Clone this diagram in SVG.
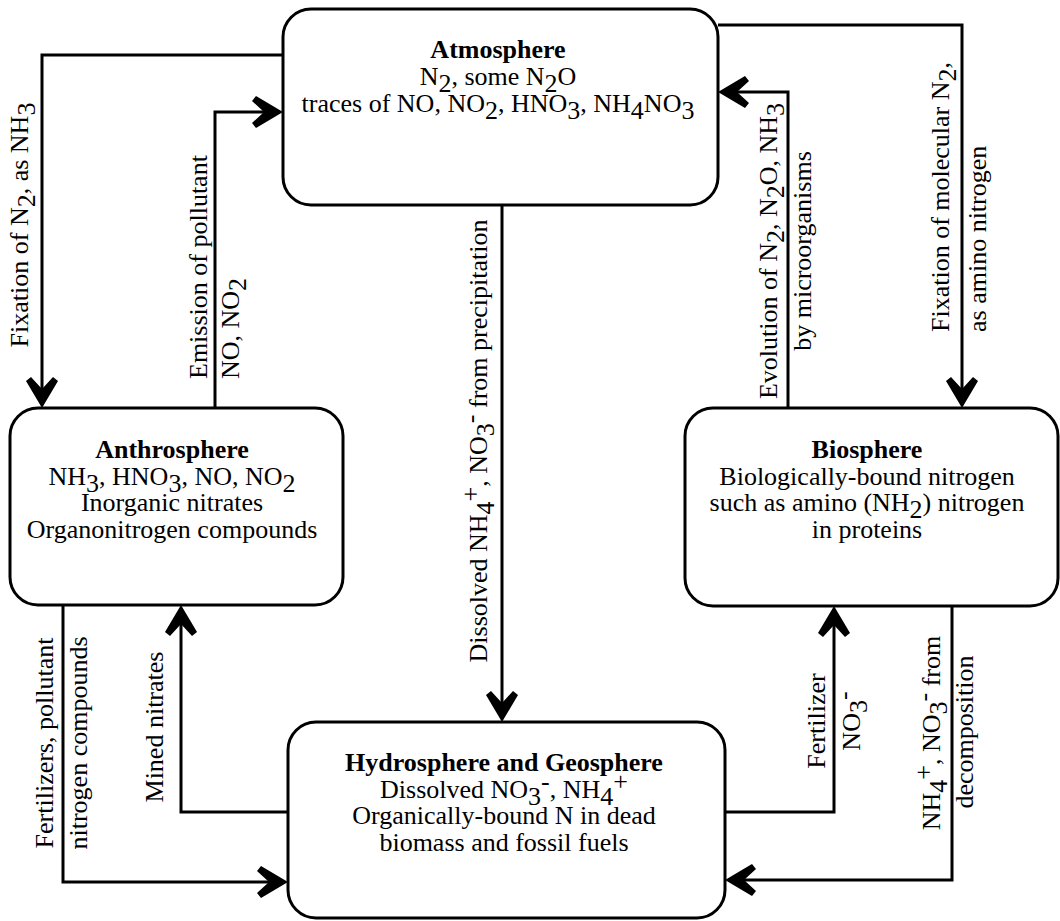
<svg xmlns="http://www.w3.org/2000/svg" width="1060" height="921" viewBox="0 0 1060 921">
<style>
.box{fill:#fff;stroke:#000;stroke-width:3}
.ln{fill:none;stroke:#000;stroke-width:3;marker-end:url(#ah)}
text{font-family:"Liberation Serif","Times New Roman",serif;font-size:26px;fill:#000}
.c{text-anchor:middle}
.b{font-weight:bold}
</style>
<defs>
<marker id="ah" markerUnits="userSpaceOnUse" viewBox="-32 -17 33 34" refX="-19" refY="0" markerWidth="33" markerHeight="34" orient="auto">
<path d="M0,0 L-27,-16 L-31,-11 L-19,0 L-31,11 L-27,16 Z" fill="#000"/>
</marker>
</defs>
<g id="connectors">
<path class="ln" d="M283,55 H42 V389"/>
<path class="ln" d="M215,408 V112 H264"/>
<path class="ln" d="M718,25 H962 V389"/>
<path class="ln" d="M788,408 V92 H737"/>
<path class="ln" d="M502,205 V703"/>
<path class="ln" d="M63,605 V882 H269"/>
<path class="ln" d="M288,812 H181 V624"/>
<path class="ln" d="M725,812 H834 V625"/>
<path class="ln" d="M952,606 V880 H744"/>
</g>
<g id="atmosphere">
<rect class="box" x="283" y="9" width="435" height="196" rx="28"/>
<text class="c b" x="498" y="58">Atmosphere</text>
<text class="c" x="498" y="85">N<tspan dy="7">2</tspan><tspan dy="-7">, some N</tspan><tspan dy="7">2</tspan><tspan dy="-7">O</tspan></text>
<text class="c" x="498" y="112">traces of NO, NO<tspan dy="7">2</tspan><tspan dy="-7">, HNO</tspan><tspan dy="7">3</tspan><tspan dy="-7">, NH</tspan><tspan dy="7">4</tspan><tspan dy="-7">NO</tspan><tspan dy="7">3</tspan></text>
</g>
<g id="anthrosphere">
<rect class="box" x="10" y="408" width="333" height="197" rx="28"/>
<text class="c b" x="172" y="458">Anthrosphere</text>
<text class="c" x="172" y="485">NH<tspan dy="7">3</tspan><tspan dy="-7">, HNO</tspan><tspan dy="7">3</tspan><tspan dy="-7">, NO, NO</tspan><tspan dy="7">2</tspan></text>
<text class="c" x="172" y="511">Inorganic nitrates</text>
<text class="c" x="172" y="538">Organonitrogen compounds</text>
</g>
<g id="biosphere">
<rect class="box" x="685" y="408" width="373" height="198" rx="28"/>
<text class="c b" x="867" y="458">Biosphere</text>
<text class="c" x="867" y="485">Biologically-bound nitrogen</text>
<text class="c" x="867" y="511">such as amino (NH<tspan dy="7">2</tspan><tspan dy="-7">) nitrogen</tspan></text>
<text class="c" x="867" y="538">in proteins</text>
</g>
<g id="hydrosphere">
<rect class="box" x="288" y="722" width="437" height="196" rx="28"/>
<text class="c b" x="504" y="771">Hydrosphere and Geosphere</text>
<text class="c" x="504" y="798">Dissolved NO<tspan dy="7">3</tspan><tspan dy="-15">-</tspan><tspan dy="8">, NH</tspan><tspan dy="7">4</tspan><tspan dy="-15">+</tspan></text>
<text class="c" x="504" y="824">Organically-bound N in dead</text>
<text class="c" x="504" y="851">biomass and fossil fuels</text>
</g>
<g id="labels">
<text class="c" x="28" y="225" transform="rotate(-90 28 225)">Fixation of N<tspan dy="7">2</tspan><tspan dy="-7">, as NH</tspan><tspan dy="7">3</tspan></text>
<text x="207" y="379" transform="rotate(-90 207 379)">Emission of pollutant</text>
<text x="239" y="379" transform="rotate(-90 239 379)">NO, NO<tspan dy="7">2</tspan></text>
<text class="c" x="777" y="251" transform="rotate(-90 777 251)">Evolution of N<tspan dy="7">2</tspan><tspan dy="-7">, N</tspan><tspan dy="7">2</tspan><tspan dy="-7">O, NH</tspan><tspan dy="7">3</tspan></text>
<text class="c" x="811" y="251" transform="rotate(-90 811 251)">by microorganisms</text>
<text x="949" y="332" transform="rotate(-90 949 332)">Fixation of molecular N<tspan dy="7">2</tspan><tspan dy="-7">,</tspan></text>
<text x="986" y="332" transform="rotate(-90 986 332)">as amino nitrogen</text>
<text class="c" x="487" y="441" transform="rotate(-90 487 441)">Dissolved NH<tspan dy="7">4</tspan><tspan dy="-15">+</tspan><tspan dy="8">, NO</tspan><tspan dy="7">3</tspan><tspan dy="-15">-</tspan><tspan dy="8"> from precipitation</tspan></text>
<text class="c" x="53" y="743" transform="rotate(-90 53 743)">Fertilizers, pollutant</text>
<text class="c" x="87" y="743" transform="rotate(-90 87 743)">nitrogen compounds</text>
<text class="c" x="163" y="727" transform="rotate(-90 163 727)">Mined nitrates</text>
<text class="c" x="825" y="721" transform="rotate(-90 825 721)">Fertilizer</text>
<text class="c" x="860" y="721" transform="rotate(-90 860 721)">NO<tspan dy="7">3</tspan><tspan dy="-15">-</tspan></text>
<text class="c" x="940" y="733" transform="rotate(-90 940 733)">NH<tspan dy="7">4</tspan><tspan dy="-15">+</tspan><tspan dy="8">, NO</tspan><tspan dy="7">3</tspan><tspan dy="-15">-</tspan><tspan dy="8"> from</tspan></text>
<text class="c" x="973" y="732" transform="rotate(-90 973 732)">decomposition</text>
</g>
</svg>
